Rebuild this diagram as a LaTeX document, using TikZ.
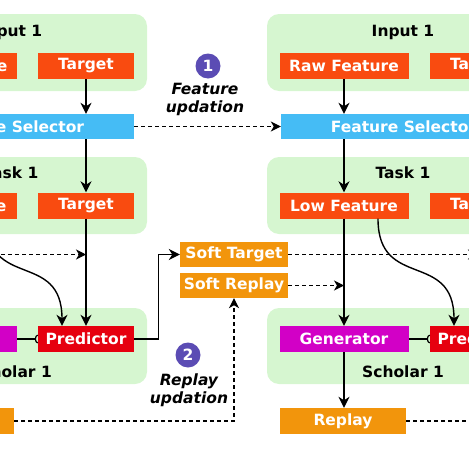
\documentclass[tikz,border=0pt]{standalone}
\usepackage{fontspec}
\setmainfont{DejaVu Sans}
\usetikzlibrary{arrows.meta,calc}
\definecolor{grn}{HTML}{D6F6D0}
\definecolor{org}{HTML}{F94B10}
\definecolor{sel}{HTML}{45BCF5}
\definecolor{prd}{HTML}{E6000F}
\definecolor{gen}{HTML}{D200C6}
\definecolor{soft}{HTML}{F2950C}
\definecolor{purp}{HTML}{5B4CB4}
\begin{document}
\begin{tikzpicture}[x=1pt,y=-1pt,
  grp/.style={fill=grn, rounded corners=12pt, minimum width=272pt, minimum height=77pt, inner sep=0pt},
  ttl/.style={font=\bfseries\fontsize{15.5}{18}\selectfont, text=black, inner sep=0pt},
  blk/.style={minimum height=26pt, inner sep=0pt, text=white, font=\bfseries\fontsize{15.5}{18}\selectfont},
  orgbox/.style={blk, fill=org},
  selbox/.style={blk, fill=sel, minimum width=245pt, minimum height=25pt},
  prdbox/.style={blk, fill=prd, minimum width=96pt},
  genbox/.style={blk, fill=gen, minimum width=129pt},
  softbox/.style={blk, fill=soft, minimum height=25pt},
  badge/.style={circle, fill=purp, minimum size=25pt, inner sep=0pt, text=white, font=\bfseries\fontsize{15.5}{18}\selectfont},
  lbl/.style={align=center, inner sep=0pt, font=\bfseries\itshape\fontsize{15.5}{18}\selectfont},
  arr/.style={-{Stealth[length=11pt,width=11pt,inset=3.5pt]}, line width=1.4pt},
  dsh/.style={-{Stealth[length=10pt,width=10pt,inset=3pt]}, line width=1.1pt, dash pattern=on 4pt off 3pt},
  dshl/.style={line width=1.1pt, dash pattern=on 4pt off 3pt},
  cup/.style={-{Arc Barb[reversed,length=3pt,width=9pt]}, line width=1.2pt}
]
\useasboundingbox (0,0) rectangle (469,469);
\clip (0,0) rectangle (469,469);

% group boxes
\node[grp] (inL) at (11,52.5) {};
\node[grp] (inR) at (403,52.5) {};
\node[grp] (taskL) at (11,195.5) {};
\node[grp] (taskR) at (403,195.5) {};
\node[grp, minimum height=76pt] (schL) at (11,346) {};
\node[grp, minimum height=76pt] (schR) at (403,346) {};

% titles
\node[ttl] (tinL) at (11,32) {Input 1};
\node[ttl] (tinR) at (403,32) {Input 1};
\node[ttl] (ttaskL) at (11,173) {Task 1};
\node[ttl] (ttaskR) at (403,173) {Task 1};
\node[ttl] (tschL) at (11,372) {Scholar 1};
\node[ttl] (tschR) at (403,372) {Scholar 1};

% input row
\node[orgbox, minimum width=129pt] (rawL) at (-47.5,66) {Raw Feature};
\node[orgbox, minimum width=96pt] (tgtL) at (86,66) {Target};
\node[orgbox, minimum width=129pt] (rawR) at (344,66) {Raw Feature};
\node[orgbox, minimum width=96pt] (tgtR) at (478,66) {Target};

% selectors
\node[selbox] (selL) at (11.5,126.5) {Feature Selector};
\node[selbox] (selR) at (403.5,126.5) {Feature Selector};

% task row
\node[orgbox, minimum width=129pt] (lowL) at (-47.5,205.5) {Low Feature};
\node[orgbox, minimum width=96pt] (tgt2L) at (86,205.5) {Target};
\node[orgbox, minimum width=129pt] (lowR) at (344,205.5) {Low Feature};
\node[orgbox, minimum width=96pt] (tgt2R) at (478,205.5) {Target};

% scholar row
\node[genbox] (genL) at (-47.5,339) {Generator};
\node[prdbox] (predL) at (86,339) {Predictor};
\node[genbox] (genR) at (344,339) {Generator};
\node[prdbox] (predR) at (478,339) {Predictor};

% replay
\node[softbox, minimum height=26pt, minimum width=126pt] (repL) at (-49,421) {Replay};
\node[softbox, minimum height=26pt, minimum width=126pt] (repR) at (343,421) {Replay};

% soft target / replay
\node[softbox, minimum width=108pt] (softT) at (234,254.5) {Soft Target};
\node[softbox, minimum width=108pt] (softR) at (234,285.5) {Soft Replay};

% badges
\node[badge] (b1) at (208,66) {1};
\node[lbl] (l1) at (205,99) {Feature\\updation};
\node[badge] (b2) at (188,355) {2};
\node[lbl] (l2) at (189,390) {Replay\\updation};

\coordinate (prevST) at (-104,254.5);
\coordinate (nextRep) at (520,421);

% connectors left copy
\draw[arr] (tgtL.south) -- (selL.north -| tgtL.south);
\draw[arr] (selL.south -| tgtL.south) -- (tgt2L.north);
\draw[arr] (tgt2L.south) -- (predL.north);
\draw[arr] ([xshift=34pt]lowL.south) .. controls +(0,72) and +(0,-76) .. ([xshift=-24pt]predL.north);
\draw[dsh] (prevST) -- (prevST -| predL.north);
\draw[cup] (genL.east) -- (predL.west);
\draw[arr] (predL.east) -- ++(24,0) |- (softT.west);
\draw[arr] (genL.south) -- (genL.south |- repL.north);

% connectors right copy
\draw[arr] (rawR.south) -- (selR.north -| rawR.south);
\draw[arr] (selR.south -| rawR.south) -- (lowR.north);
\draw[arr] (tgtR.south) -- (selR.north -| tgtR.south);
\draw[arr] (selR.south -| tgtR.south) -- (tgt2R.north);
\draw[arr] (tgt2R.south) -- (predR.north);
\draw[arr] (lowR.south) -- (genR.north);
\draw[arr] ([xshift=34pt]lowR.south) .. controls +(0,72) and +(0,-76) .. ([xshift=-24pt]predR.north);
\draw[cup] (genR.east) -- (predR.west);
\draw[arr] (genR.south) -- (genR.south |- repR.north);

% updation connectors
\draw[dsh] (selL.east) -- (selR.west);
\draw[dsh] (softT.east) -- (softT.east -| predR.north);
\draw[dsh] (softR.east) -- (softR.east -| genR.north);
\draw[dsh] (repL.east) -| (softR.south);
\draw[dshl] (repR.east) -- (nextRep);
\end{tikzpicture}
\end{document}
